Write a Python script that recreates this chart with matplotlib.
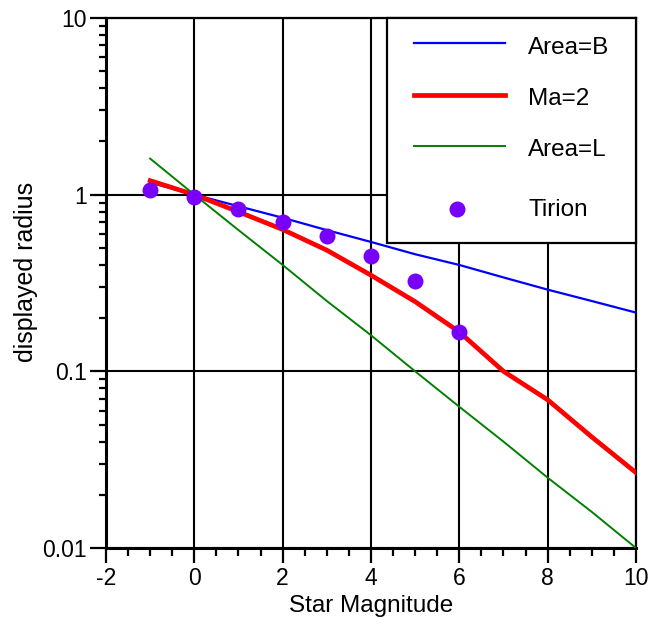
import numpy as np
from matplotlib import pyplot as plt
from matplotlib.patches import Rectangle
from matplotlib.ticker import MultipleLocator, LogLocator, FixedLocator, FuncFormatter, NullFormatter

plt.rcParams['font.family'] = ['Liberation Sans', 'DejaVu Sans']
plt.rcParams['axes.unicode_minus'] = False

mag = [-1, 0, 1, 2, 3, 4, 5, 6, 7, 8, 9, 10]
area_b = [1.17, 1.0, 0.86, 0.74, 0.63, 0.54, 0.46, 0.40, 0.34, 0.29, 0.25, 0.215]
ma_2 = [1.2, 1.0, 0.80, 0.635, 0.485, 0.35, 0.248, 0.167, 0.10, 0.069, 0.0425, 0.0267]
area_l = [1.6, 1.0, 0.63, 0.40, 0.25, 0.16, 0.10, 0.063, 0.040, 0.025, 0.016, 0.010]

tirion_mag = [-1, 0, 1, 2, 3, 4, 5, 6]
tirion = [1.06, 0.97, 0.83, 0.70, 0.58, 0.45, 0.326, 0.167]

c_blue = "#0000ff"
c_red = "#ff0000"
c_green = "#008000"
c_dot = "#7800f8"

fig = plt.figure(figsize=(6.49, 6.28), dpi=100)
ax = fig.add_axes([106/649, 80/628, 530/649, 530/628])

ax.plot(mag, area_b, color=c_blue, lw=1.6, zorder=3)
ax.plot(mag, ma_2, color=c_red, lw=3.4, zorder=3)
ax.plot(mag, area_l, color=c_green, lw=1.4, zorder=3)
ax.plot(tirion_mag, tirion, "o", color=c_dot, ms=11.5, mec="none", zorder=4)

ax.set_yscale("log")
ax.set_xlim(-2, 10)
ax.set_ylim(0.01, 10)

ax.xaxis.set_major_locator(MultipleLocator(2))
ax.xaxis.set_minor_locator(MultipleLocator(0.5))
ax.yaxis.set_major_locator(FixedLocator([0.01, 0.1, 1, 10]))
ax.yaxis.set_minor_locator(LogLocator(base=10, subs=np.arange(2, 10)))
ax.yaxis.set_major_formatter(FuncFormatter(lambda v, p: "%g" % v))
ax.yaxis.set_minor_formatter(NullFormatter())

ax.grid(True, which="major", color="black", lw=1.5, zorder=1)
ax.set_axisbelow(True)

ax.tick_params(axis="x", which="major", length=10.5, width=1.6, labelsize=16.5, pad=3, direction="out")
ax.tick_params(axis="x", which="minor", length=6, width=1.6, direction="out")
ax.tick_params(axis="y", which="major", length=11.5, width=1.6, labelsize=16.5, pad=2, direction="out")
ax.tick_params(axis="y", which="minor", length=4.8, width=1.6, direction="out")

for s in ["left", "bottom"]:
    ax.spines[s].set_linewidth(2.2)
for s in ["top", "right"]:
    ax.spines[s].set_linewidth(1.6)

ax.set_xlabel("Star Magnitude", fontsize=17.5, labelpad=4)
ax.set_ylabel("displayed radius", fontsize=18)
ax.yaxis.set_label_coords(-0.128, 0.52)

# legend box drawn by hand (row spacing is uneven in the original)
ax.add_patch(Rectangle((0.530, 0.575), 0.470, 0.425, transform=ax.transAxes,
                       facecolor="white", edgecolor="black", lw=1.6, zorder=5, clip_on=False))
rows = [("Area=B", c_blue, 1.6, 0.953, 0.933),
        ("Ma=2", c_red, 3.4, 0.855, 0.836),
        ("Area=L", c_green, 1.4, 0.758, 0.7396)]
for name, col, lw, yl, yt in rows:
    ax.plot([0.581, 0.753], [yl, yl], color=col, lw=lw, transform=ax.transAxes, zorder=6, clip_on=False)
    ax.text(0.797, yt, name, fontsize=17.5, va="baseline", transform=ax.transAxes, zorder=6)
ax.plot([0.662], [0.640], "o", color=c_dot, ms=11.5, mec="none", transform=ax.transAxes, zorder=6, clip_on=False)
ax.text(0.797, 0.626, "Tirion", fontsize=17.5, va="baseline", transform=ax.transAxes, zorder=6)

plt.savefig("out.png", dpi=100)
